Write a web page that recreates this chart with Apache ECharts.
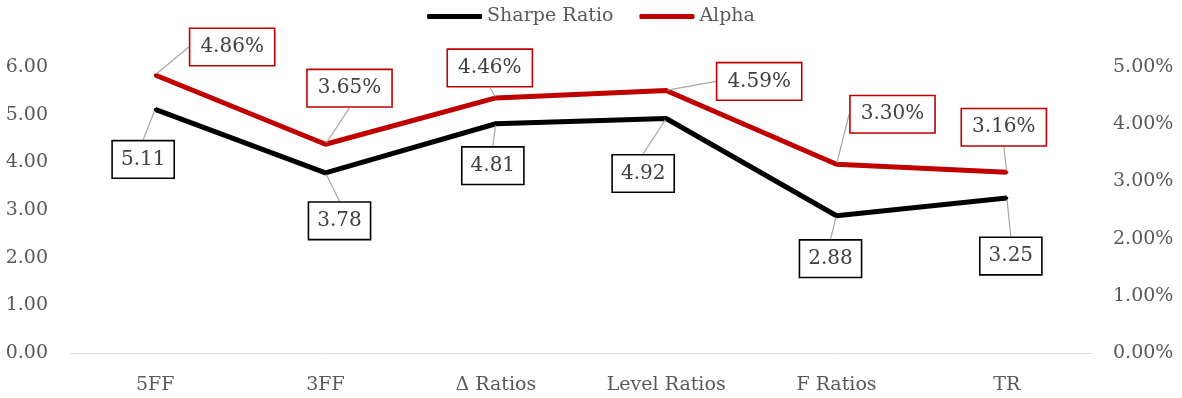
<!DOCTYPE html>
<html>
<head>
<meta charset="utf-8">
<script src="https://cdn.jsdelivr.net/npm/echarts@6/dist/echarts.min.js"></script>
<style>
  html, body { margin: 0; padding: 0; background: #fff; }
  #chart { width: 1182px; height: 398px; }
</style>
</head>
<body>
<div id="chart"></div>
<script>
// chart data
var categories = ['5FF', '3FF', 'Δ Ratios', 'Level Ratios', 'F Ratios', 'TR'];
var sharpeRatio = [5.11, 3.78, 4.81, 4.92, 2.88, 3.25];
var alphaPct = [4.86, 3.65, 4.46, 4.59, 3.30, 3.16];
var leftTicks = [0, 6, 1];   // min, max, step
var rightTicks = [0, 5, 1];

// where each label box sits relative to its point (px)
var sharpeLabelOffset = [[-12, 50], [14, 48], [-3, 42], [-23, 55], [-6, 43], [4, 58]];
var alphaLabelOffset = [[77, -28], [24, -56], [-6, -30], [93, -9], [56, -50], [-3, -45]];

var FONT = 'DejaVu Serif';

function placeLabel(offsets) {
    return function (p) {
        var o = offsets[p.dataIndex];
        return {
            x: p.rect.x + p.rect.width / 2 + o[0],
            y: p.rect.y + p.rect.height / 2 + o[1],
            align: 'center',
            verticalAlign: 'middle'
        };
    };
}

var myChart = echarts.init(document.getElementById('chart'));
var option = {
    animation: false,
    textStyle: { fontFamily: FONT },
    legend: {
        top: 2,
        left: 'center',
        itemWidth: 55,
        itemHeight: 5,
        itemGap: 26,
        textStyle: { fontFamily: FONT, fontSize: 19, color: '#595959' },
        data: [
            { name: 'Sharpe Ratio', icon: 'roundRect' },
            { name: 'Alpha', icon: 'roundRect' }
        ]
    },
    grid: { left: 70, right: 90, top: 67, bottom: 45 },
    xAxis: {
        type: 'category',
        data: categories,
        axisTick: { show: false },
        axisLine: { lineStyle: { color: '#d9d9d9', width: 1 } },
        axisLabel: { fontFamily: FONT, fontSize: 19, color: '#595959', margin: 23 }
    },
    yAxis: [{
        type: 'value',
        min: leftTicks[0], max: leftTicks[1], interval: leftTicks[2],
        splitLine: { show: false },
        axisLine: { show: false },
        axisLabel: {
            fontFamily: FONT, fontSize: 19, color: '#595959', margin: 22,
            formatter: function (v) { return v.toFixed(2); }
        }
    }, {
        type: 'value',
        min: rightTicks[0], max: rightTicks[1], interval: rightTicks[2],
        splitLine: { show: false },
        axisLine: { show: false },
        axisLabel: {
            fontFamily: FONT, fontSize: 19, color: '#595959', margin: 21,
            formatter: function (v) { return v.toFixed(2) + '%'; }
        }
    }],
    series: [{
        name: 'Sharpe Ratio',
        type: 'line',
        yAxisIndex: 0,
        data: sharpeRatio,
        symbol: 'circle',
        symbolSize: 3,
        itemStyle: { color: '#000000' },
        lineStyle: { color: '#000000', width: 5 },
        label: {
            show: true,
            fontFamily: FONT, fontSize: 20, color: '#404040',
            backgroundColor: '#ffffff',
            borderColor: '#000000', borderWidth: 1.6,
            padding: [9, 8, 7, 8],
            formatter: function (p) { return p.value.toFixed(2); }
        },
        labelLine: { show: true, lineStyle: { color: '#a6a6a6', width: 1.2 } },
        labelLayout: placeLabel(sharpeLabelOffset)
    }, {
        name: 'Alpha',
        type: 'line',
        yAxisIndex: 1,
        data: alphaPct,
        symbol: 'circle',
        symbolSize: 3,
        itemStyle: { color: '#c00000' },
        lineStyle: { color: '#c00000', width: 5 },
        label: {
            show: true,
            fontFamily: FONT, fontSize: 20, color: '#404040',
            backgroundColor: '#ffffff',
            borderColor: '#c00000', borderWidth: 1.6,
            padding: [9, 10, 7, 10],
            formatter: function (p) { return p.value.toFixed(2) + '%'; }
        },
        labelLine: { show: true, lineStyle: { color: '#a6a6a6', width: 1.2 } },
        labelLayout: placeLabel(alphaLabelOffset)
    }]
};
myChart.setOption(option);
</script>
</body>
</html>
